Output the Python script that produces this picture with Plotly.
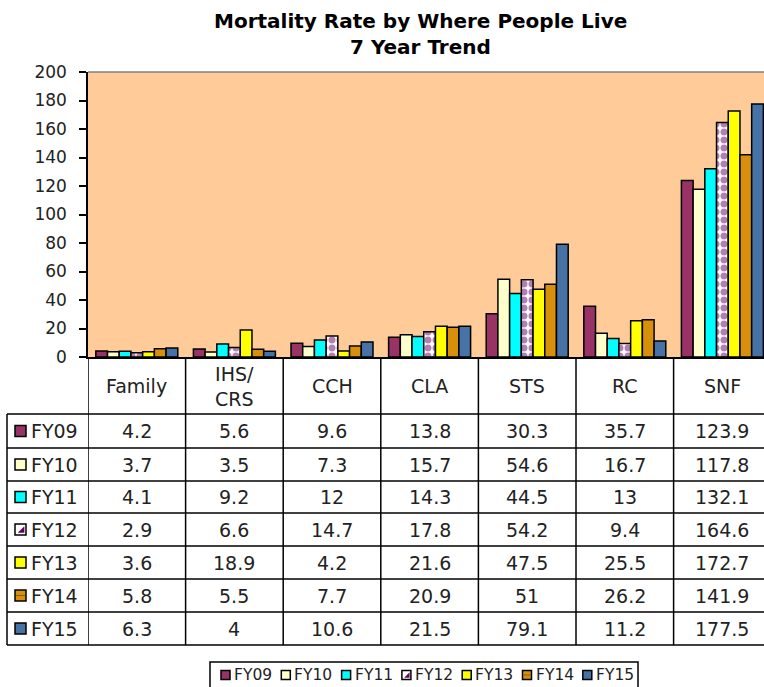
import plotly.graph_objects as go

# ---------------- data ----------------
categories = ["Family", "IHS/CRS", "CCH", "CLA", "STS", "RC", "SNF"]
header_labels = ["Family", "IHS/<br>CRS", "CCH", "CLA", "STS", "RC", "SNF"]
series_names = ["FY09", "FY10", "FY11", "FY12", "FY13", "FY14", "FY15"]
fy09 = [4.2, 5.6, 9.6, 13.8, 30.3, 35.7, 123.9]
fy10 = [3.7, 3.5, 7.3, 15.7, 54.6, 16.7, 117.8]
fy11 = [4.1, 9.2, 12, 14.3, 44.5, 13, 132.1]
fy12 = [2.9, 6.6, 14.7, 17.8, 54.2, 9.4, 164.6]
fy13 = [3.6, 18.9, 4.2, 21.6, 47.5, 25.5, 172.7]
fy14 = [5.8, 5.5, 7.7, 20.9, 51, 26.2, 141.9]
fy15 = [6.3, 4, 10.6, 21.5, 79.1, 11.2, 177.5]
series_values = [fy09, fy10, fy11, fy12, fy13, fy14, fy15]
y_ticks = [0, 20, 40, 60, 80, 100, 120, 140, 160, 180, 200]

# ---------------- styling ----------------
W, H = 764, 687
colors = ["#993366", "#FFFFCC", "#00FFFF", "#FFFFFF", "#FFFF00", "#D8900A", "#4672A6"]
FONT = "DejaVu Sans"
TXT = "#222222"


def px(x):
    return x / W


def py(y):
    return 1 - y / H


PLOT_L, PLOT_T, PLOT_B = 88, 72, 357
COL_W = 97.6

fig = go.Figure()
for i, (name, vals) in enumerate(zip(series_names, series_values)):
    marker = dict(color=colors[i], line=dict(color="#000000", width=1.5))
    if name == "FY12":
        marker["pattern"] = dict(shape=".", fgcolor="#660066", bgcolor="#FFFFFF",
                                 size=8, solidity=0.6, fillmode="overlay")
    fig.add_trace(go.Bar(x=list(range(len(categories))), y=vals, name=name,
                         marker=marker, showlegend=False,
                         hovertext=categories))

x_hi = -0.5 + (W - PLOT_L) / COL_W

fig.update_layout(
    width=W, height=H,
    margin=dict(l=0, r=0, t=0, b=0),
    paper_bgcolor="white",
    plot_bgcolor="#FFCC99",
    barmode="group",
    bargap=0.16,
    bargroupgap=0,
    template="none",
    font=dict(family=FONT, color=TXT),
    xaxis=dict(domain=[px(PLOT_L), 1], range=[-0.5, x_hi], showticklabels=False,
               ticks="", showgrid=False, zeroline=False, showline=True,
               linecolor="#000000", linewidth=1.5, automargin=False, fixedrange=True),
    yaxis=dict(domain=[py(PLOT_B), py(PLOT_T)], range=[0, 200], tickvals=y_ticks,
               ticks="outside", ticklen=7, tickcolor="#000000", tickwidth=1.5,
               showgrid=False, zeroline=False, showline=True, linecolor="#000000",
               linewidth=1.5, automargin=False, ticklabelstandoff=9,
               tickfont=dict(family=FONT, size=17, color=TXT), fixedrange=True),
)

shapes = []
annotations = []

# top border of plot area
shapes.append(dict(type="line", xref="paper", yref="paper", x0=px(PLOT_L), x1=1,
                   y0=py(PLOT_T), y1=py(PLOT_T), line=dict(color="#808080", width=1.5)))

# title
annotations.append(dict(text="<b>Mortality Rate by Where People Live</b>", xref="paper",
                        yref="paper", x=px(420), y=py(21), showarrow=False,
                        font=dict(family=FONT, size=20, color="#000000"),
                        xanchor="center", yanchor="middle"))
annotations.append(dict(text="<b>7 Year Trend</b>", xref="paper", yref="paper",
                        x=px(420), y=py(47), showarrow=False,
                        font=dict(family=FONT, size=20, color="#000000"),
                        xanchor="center", yanchor="middle"))

# ---------------- data table ----------------
row_lines = [414, 448, 481, 513, 546, 579, 612, 645]
row_centers = [(row_lines[i] + row_lines[i + 1]) / 2 for i in range(7)]
TABLE_L = 7
line_style = dict(color="#000000", width=1.5)

# vertical column lines (in axis coordinates)
for k in range(len(categories)):
    shapes.append(dict(type="line", xref="x", yref="paper", x0=k - 0.5, x1=k - 0.5,
                       y0=py(PLOT_B), y1=py(row_lines[-1]), line=line_style))
# left border
shapes.append(dict(type="line", xref="paper", yref="paper", x0=px(TABLE_L), x1=px(TABLE_L),
                   y0=py(row_lines[0]), y1=py(row_lines[-1]), line=line_style))
# horizontal row lines
for r in row_lines:
    shapes.append(dict(type="line", xref="paper", yref="paper", x0=px(TABLE_L), x1=1,
                       y0=py(r), y1=py(r), line=line_style))

# header labels
for k, lab in enumerate(header_labels):
    annotations.append(dict(text=lab, xref="x", yref="paper", x=k, y=py(386),
                            showarrow=False, xanchor="center", yanchor="middle",
                            font=dict(family=FONT, size=19, color=TXT)))


def key_shapes(x0, yc, size, idx):
    out = [dict(type="rect", xref="paper", yref="paper", x0=px(x0), x1=px(x0 + size),
                y0=py(yc - size / 2), y1=py(yc + size / 2), fillcolor=colors[idx],
                line=dict(color="#000000", width=1.5))]
    if series_names[idx] == "FY12":
        xa, xb = x0 + size * 0.25, x0 + size * 0.85
        ya, yb = yc - size * 0.3, yc + size * 0.3
        out.append(dict(type="path", xref="paper", yref="paper",
                        path=f"M {px(xb)},{py(ya)} L {px(xb)},{py(yb)} L {px(xa)},{py(yb)} Z",
                        fillcolor="#660066", line=dict(width=0)))
    if series_names[idx] == "FY14":
        out.append(dict(type="line", xref="paper", yref="paper", x0=px(x0 + 1),
                        x1=px(x0 + size - 1), y0=py(yc), y1=py(yc),
                        line=dict(color="#8A5A00", width=1)))
    return out


# rows
for i, (name, vals) in enumerate(zip(series_names, series_values)):
    yc = row_centers[i]
    shapes.extend(key_shapes(15, yc, 11, i))
    annotations.append(dict(text=name, xref="paper", yref="paper", x=px(29), y=py(yc),
                            showarrow=False, xanchor="left", yanchor="middle",
                            font=dict(family=FONT, size=19, color=TXT)))
    for k, v in enumerate(vals):
        annotations.append(dict(text=f"{v:g}", xref="x", yref="paper", x=k, y=py(yc),
                                showarrow=False, xanchor="center", yanchor="middle",
                                font=dict(family=FONT, size=19, color=TXT)))

# ---------------- legend (bottom) ----------------
LEG_L, LEG_T = 210, 662
shapes.append(dict(type="rect", xref="paper", yref="paper", x0=px(LEG_L), x1=px(638),
                   y0=py(LEG_T), y1=py(H + 10), fillcolor="white",
                   line=dict(color="#000000", width=1.5), layer="below"))
for i, name in enumerate(series_names):
    kx = 221 + 60.3 * i
    shapes.extend(key_shapes(kx, 675, 9, i))
    annotations.append(dict(text=name, xref="paper", yref="paper", x=px(kx + 11), y=py(675),
                            showarrow=False, xanchor="left", yanchor="middle",
                            font=dict(family=FONT, size=15.5, color=TXT)))

fig.update_layout(shapes=shapes, annotations=annotations)
fig.write_html("out.html", config={"displayModeBar": False},
               post_script="document.body.style.margin='0';document.body.style.overflow='hidden';")
